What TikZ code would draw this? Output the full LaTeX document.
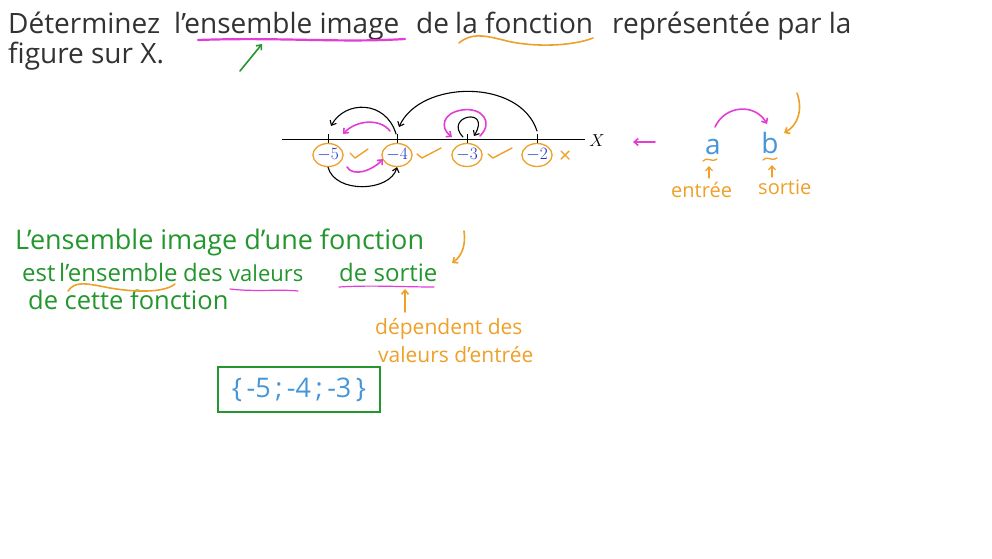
\documentclass[tikz,border=0pt]{standalone}
\usepackage{fontspec}
\setmainfont{Open Sans}
\usetikzlibrary{arrows.meta,shapes.geometric}
\definecolor{ink}{RGB}{50,50,50}
\definecolor{mag}{RGB}{228,60,215}
\definecolor{org}{RGB}{238,160,40}
\definecolor{grn}{RGB}{35,150,45}
\definecolor{lblue}{RGB}{70,150,215}
\definecolor{nblue}{RGB}{30,50,200}
\begin{document}
\begin{tikzpicture}[x=1pt,y=-1pt,
  pen/.style={line width=1.6pt,line cap=round,line join=round},
  arr/.style={pen,-{Straight Barb[length=4pt,width=7pt]}},
  head/.style={anchor=base west,inner sep=0,text=ink,font=\fontsize{28}{32}\selectfont},
  gtxt/.style={anchor=base west,inner sep=0,text=grn,font=\fontsize{24}{28}\selectfont},
  otxt/.style={anchor=base west,inner sep=0,text=org,font=\fontsize{21}{24}\selectfont},
  num/.style={ellipse,draw=org,line width=1.3pt,minimum width=30,minimum height=23,inner sep=0,text=nblue,font=\fontsize{17}{17}\selectfont},
  tick/.style={line width=0.8pt}
]
\useasboundingbox[fill=white] (0,0) rectangle (992,558);
% heading
\node[head] (h1a) at (8,33) {Déterminez};
\node[head] (h1b) at (174,33) {l'ensemble image};
\node[head] (h1c) at (416,33) {de};
\node[head] (h1d) at (455,33) {la fonction};
\node[head] (h1e) at (612,33) {représentée par la};
\node[head] (h2) at (8,63) {figure sur X.};
\draw[mag,pen,line width=2.2pt] (198,40) .. controls (280,37) and (340,43) .. (405,39);
\draw[org,pen] (459,43) .. controls (471,33) and (483,35) .. (503,40) .. controls (533,48) and (573,46) .. (593,38);
\coordinate (ga) at (240,71);
\coordinate (gb) at (262,44);
\draw[arr,grn] (ga) -- (gb);
% number line
\coordinate (ax0) at (282,139);
\coordinate (ax1) at (585,139);
\draw[line width=0.9pt] (ax0) -- (ax1);
\node[font=\fontsize{17}{17}\selectfont] (X) at (597,141) {$X$};
\foreach \n/\x in {5/328,4/397,3/467,2/537}{
  \coordinate (t\n) at (\x,139);
  \draw[tick] (\x,134) -- (\x,143);
  \node[num] (l\n) at (\x,155) {$-\n$};
}
% black arrows
\draw[arr,line width=1.1pt] (396,134) .. controls (386,100) and (345,100) .. (331,126);
\draw[arr,line width=1.1pt] (537,131) .. controls (520,78) and (420,80) .. (399,127);
\draw[arr,line width=1.1pt] (463,137) .. controls (443,116) and (492,106) .. (474,136);
\draw[arr,line width=1.1pt] (l5.south) .. controls (335,194) and (390,192) .. (l4.south);
% magenta arrows
\draw[arr,mag] (390,131) .. controls (380,118) and (356,120) .. (343,134);
\draw[arr,mag] (347,167) .. controls (353,177) and (372,171) .. (383,159);
\draw[arr,mag] (480,136) .. controls (494,122) and (482,107) .. (462,110) .. controls (442,113) and (440,128) .. (452,137);
% checks
\draw[org,pen,line width=1.4pt] (350,153) -- (355,158) -- (368,149);
\draw[org,pen,line width=1.4pt] (417,154) -- (422,158) -- (441,148);
\draw[org,pen,line width=1.4pt] (488,154) -- (493,158) -- (512,148);
\draw[org,pen,line width=1.4pt] (561,151) -- (569,159) (569,151) -- (561,159);
% right part
\coordinate (ma) at (655,142);
\coordinate (mb) at (633,142);
\draw[arr,mag] (ma) -- (mb);
\node[text=lblue,font=\fontsize{28}{28}\selectfont,inner sep=0] (a) at (713,147) {a};
\node[text=lblue,font=\fontsize{28}{28}\selectfont,inner sep=0] (b) at (770,143) {b};
\draw[arr,mag] (715,127) .. controls (725,105) and (755,103) .. (767,124);
\draw[arr,org] (797,93) .. controls (803,110) and (798,125) .. (784,133);
\draw[org,pen,line width=1.3pt] (703,161) .. controls (707,156) and (711,163) .. (717,159);
\draw[org,pen,line width=1.3pt] (763,160) .. controls (767,155) and (771,162) .. (777,158);
\draw[arr,org,line width=1.2pt] (709,178) -- (709,166);
\draw[arr,org,line width=1.2pt] (772,177) -- (772,165);
\node[otxt,font=\fontsize{20}{22}\selectfont] (en) at (671,197) {entrée};
\node[otxt,font=\fontsize{20}{22}\selectfont] (so) at (758,194) {sortie};
% green text
\node[gtxt,font=\fontsize{27}{30}\selectfont] (g1) at (15,249) {L'ensemble image d'une fonction};
\node[gtxt] (g2a) at (22,281) {est};
\node[gtxt] (g2b) at (59,281) {l'ensemble};
\node[gtxt] (g2c) at (183,281) {des};
\node[gtxt,font=\fontsize{22}{28}\selectfont] (g2d) at (229,281) {valeurs};
\node[gtxt] (g2e) at (339,281) {de sortie};
\node[gtxt,font=\fontsize{25.5}{28}\selectfont] (g3) at (28,309) {de cette fonction};
\draw[org,pen] (68,291) .. controls (75,281) and (85,283) .. (110,288) .. controls (140,293) and (165,292) .. (175,284);
\draw[mag,pen,line width=1.2pt] (230,289) .. controls (255,292) and (280,289) .. (298,291);
\draw[mag,pen,line width=1.2pt] (339,287) .. controls (370,285) and (405,287) .. (434,287);
\draw[arr,org] (464,231) .. controls (466,245) and (462,256) .. (452,263);
\draw[arr,org] (405,312) -- (405,289);
\node[otxt] (d1) at (375,334) {dépendent des};
\node[otxt] (d2) at (378,362) {valeurs d'entrée};
% answer box
\node[draw=grn,line width=1.8pt,minimum width=162,minimum height=45,inner sep=0,text=lblue,font=\fontsize{27}{27}\selectfont] (set) at (299,389.5) {\{\,-5\,;\,-4\,;\,-3\,\}};
\end{tikzpicture}
\end{document}
